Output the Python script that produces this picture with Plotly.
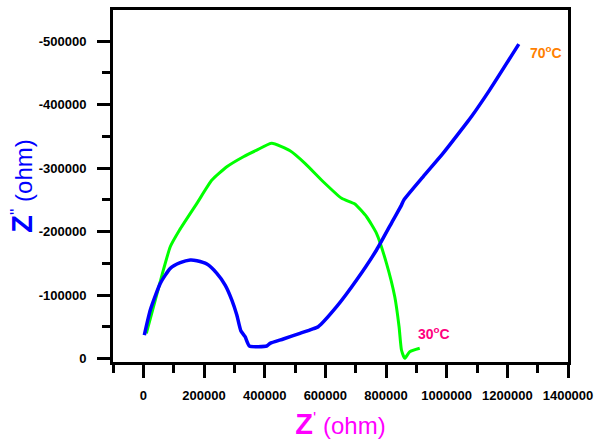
import plotly.graph_objects as go

# 30°C series (Z' , -Z'')
z_re_30 = [9900, 61500, 88800, 119400, 176600, 226000, 275300, 330000, 374000, 423400,
           483600, 532900, 593100, 653700, 697400, 735900, 768700, 801600, 828900, 843100,
           851000, 861800, 878300, 911200]
z_im_30 = [-39700, -131500, -176000, -202400, -244400, -281100, -302000, -317800, -328300, -338900,
           -327200, -307400, -278400, -252300, -243300, -223300, -197200, -149900, -97300, -50100,
           -13400, -300, -10700, -16100]

# 70°C series
z_re_70 = [3300, 23000, 55900, 88800, 121700, 154600, 176600, 209500, 242400, 269700,
           291800, 308200, 321400, 335500, 349700, 406900, 417800, 461500, 516400, 554900,
           576600, 637200, 703000, 768700, 823400, 851000, 858600, 922100, 987800, 1064800,
           1081300, 1141400, 1237800]
z_im_70 = [-37000, -76400, -118400, -142000, -150900, -155100, -154000, -148800, -134200, -115700,
           -92100, -68500, -43800, -34300, -19700, -19700, -23900, -30700, -39700, -46000,
           -50100, -81600, -123600, -170900, -218100, -241700, -249600, -286300, -323100, -370400,
           -380800, -422800, -495300]

x_tick_vals = [0, 200000, 400000, 600000, 800000, 1000000, 1200000, 1400000]
x_tick_text = ["0", "200000", "400000", "600000", "800000", "1000000", "1200000", "1400000"]
y_tick_vals = [0, -100000, -200000, -300000, -400000, -500000]
y_tick_text = ["0", "-100000", "-200000", "-300000", "-400000", "-500000"]

font_fam = "Liberation Sans, Arial, sans-serif"

fig = go.Figure()
fig.add_trace(go.Scatter(x=z_re_30, y=z_im_30, mode="lines",
                         line=dict(color="#00FF00", width=3, shape="spline", smoothing=0.5),
                         name="30°C"))
fig.add_trace(go.Scatter(x=z_re_70, y=z_im_70, mode="lines",
                         line=dict(color="#0000FF", width=3.5, shape="spline", smoothing=0.5),
                         name="70°C"))

fig.add_annotation(x=1266500, y=-482700, text="<b>70<sup>o</sup>C</b>", showarrow=False,
                   xanchor="left", yanchor="middle",
                   font=dict(family=font_fam, size=14, color="#FF8000"))
fig.add_annotation(x=898000, y=-40200, text="<b>30<sup>o</sup>C</b>", showarrow=False,
                   xanchor="left", yanchor="middle",
                   font=dict(family=font_fam, size=14, color="#FF0080"))

axis_common = dict(showline=True, linewidth=3, linecolor="black", mirror=True,
                   ticks="outside", ticklen=13, tickwidth=3, tickcolor="black",
                   showgrid=False, zeroline=False, automargin=False,
                   tickfont=dict(family=font_fam, size=13, color="black", weight="bold"))

fig.update_xaxes(range=[-100000, 1400000], tickvals=x_tick_vals, ticktext=x_tick_text,
                 minor=dict(ticks="outside", ticklen=8, tickwidth=3, tickcolor="black",
                            dtick=100000, tick0=0, showgrid=False),
                 ticklabelstandoff=6,
                 title=dict(text="<span style='font-size:29px'><b>Z</b></span><sup>'</sup> (ohm)",
                            font=dict(family=font_fam, size=24, color="#FF00FF"), standoff=16),
                 **axis_common)
fig.update_yaxes(range=[5500, -549000], tickvals=y_tick_vals, ticktext=y_tick_text,
                 minor=dict(ticks="outside", ticklen=8, tickwidth=3, tickcolor="black",
                            dtick=50000, tick0=0, showgrid=False),
                 ticklabelstandoff=8,
                 title=dict(text="<span style='font-size:29px'><b>Z</b></span><sup>''</sup> (ohm)",
                            font=dict(family=font_fam, size=24, color="#0000FF"), standoff=0),
                 **axis_common)

fig.update_layout(width=596, height=443, margin=dict(l=113, r=28, t=10, b=81),
                  plot_bgcolor="white", paper_bgcolor="white", showlegend=False)

# remove the default page margin so the figure fills the window exactly
fig.write_html("out.html", config={"displayModeBar": False},
               post_script="document.body.style.margin='0';document.body.style.overflow='hidden';")
